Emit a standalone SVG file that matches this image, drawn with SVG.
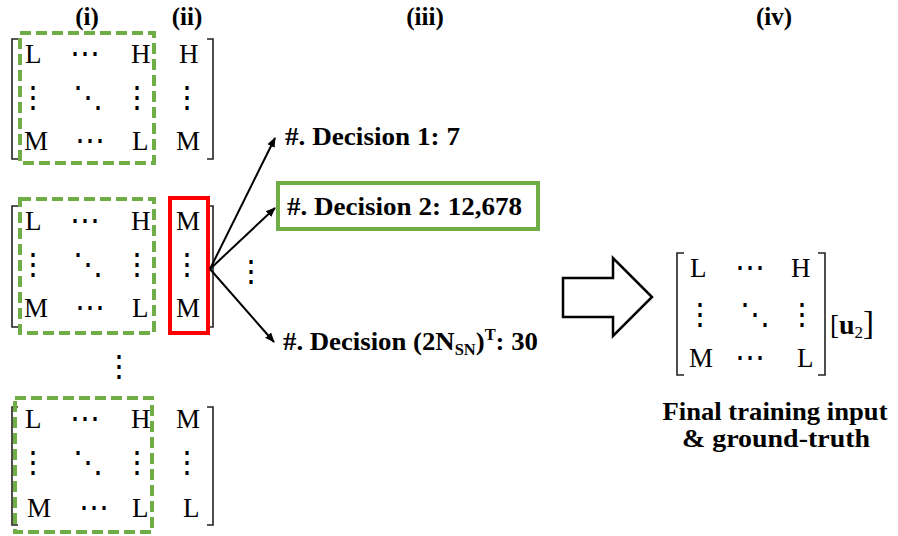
<svg xmlns="http://www.w3.org/2000/svg" width="898" height="536" viewBox="0 0 898 536">
<style>
.m{font-family:"Liberation Serif","Times New Roman",serif;font-size:27px;fill:#000}
.d{font-family:"DejaVu Serif",serif;font-size:30px;fill:#000;text-anchor:middle}
.b{font-family:"Liberation Serif","Times New Roman",serif;font-weight:bold;font-size:26px;fill:#000}
.h{font-family:"Liberation Serif","Times New Roman",serif;font-weight:bold;font-size:25px;fill:#000;text-anchor:middle}
.br{fill:none;stroke:#222;stroke-width:1.6}
.gd{fill:none;stroke:#70AD47;stroke-width:4;stroke-dasharray:11 5}
.con{stroke:#000;stroke-width:2;fill:none;marker-end:url(#ah)}
</style>
<defs>
<marker id="ah" viewBox="0 0 10 10" refX="9" refY="5" markerWidth="10" markerHeight="10" markerUnits="userSpaceOnUse" orient="auto">
<path d="M0,1 L10,5 L0,9 Z" fill="#000"/>
</marker>
</defs>
<rect width="898" height="536" fill="#fff"/>
<g id="headers">
<text class="h" x="87" y="25">(i)</text>
<text class="h" x="187" y="25">(ii)</text>
<text class="h" x="425" y="25">(iii)</text>
<text class="h" x="774" y="25">(iv)</text>
</g>
<g id="matrix1">
<path class="br" d="M18,39 H12 V159 H18 M207,39 H213 V159 H207"/>
<text class="m" x="25" y="63">L</text>
<text class="d" x="85" y="63">⋯</text>
<text class="m" x="131" y="63">H</text>
<text class="m" x="179" y="63">H</text>
<text class="d" x="33" y="107">⋮</text>
<text class="d" x="88" y="107">⋱</text>
<text class="d" x="137" y="107">⋮</text>
<text class="d" x="187" y="107">⋮</text>
<text class="m" x="24" y="150">M</text>
<text class="d" x="90" y="150">⋯</text>
<text class="m" x="132" y="150">L</text>
<text class="m" x="176" y="150">M</text>
<rect class="gd" x="20" y="33" width="134" height="130"/>
</g>
<g id="matrix2">
<path class="br" d="M18,206 H12 V327 H18 M207,206 H213 V327 H207"/>
<text class="m" x="25" y="230">L</text>
<text class="d" x="85" y="230">⋯</text>
<text class="m" x="131" y="230">H</text>
<text class="m" x="176" y="230">M</text>
<text class="d" x="33" y="274">⋮</text>
<text class="d" x="88" y="274">⋱</text>
<text class="d" x="137" y="274">⋮</text>
<text class="d" x="187" y="274">⋮</text>
<text class="m" x="24" y="317">M</text>
<text class="d" x="90" y="317">⋯</text>
<text class="m" x="132" y="317">L</text>
<text class="m" x="176" y="317">M</text>
<rect class="gd" x="20" y="199" width="134" height="134"/>
<rect x="170" y="198" width="38" height="135" fill="none" stroke="#FF0000" stroke-width="4"/>
</g>
<g id="vdots">
<text class="d" x="119" y="376">⋮</text>
<text class="d" x="251" y="281">⋮</text>
</g>
<g id="matrix3">
<path class="br" d="M18,407 H12 V525 H18 M207,407 H213 V525 H207"/>
<text class="m" x="25" y="428">L</text>
<text class="d" x="85" y="428">⋯</text>
<text class="m" x="131" y="428">H</text>
<text class="m" x="176" y="428">M</text>
<text class="d" x="33" y="472">⋮</text>
<text class="d" x="88" y="472">⋱</text>
<text class="d" x="137" y="472">⋮</text>
<text class="d" x="187" y="472">⋮</text>
<text class="m" x="27" y="517">M</text>
<text class="d" x="94" y="517">⋯</text>
<text class="m" x="132" y="517">L</text>
<text class="m" x="183" y="517">L</text>
<rect class="gd" x="15" y="398" width="137" height="134"/>
</g>
<g id="connectors">
<path class="con" d="M210,269 L275,138"/>
<path class="con" d="M210,269 L275,208"/>
<path class="con" d="M210,269 L274,342"/>
</g>
<g id="decision1">
<text class="b" x="285" y="145" textLength="175" lengthAdjust="spacingAndGlyphs">#. Decision 1: 7</text>
</g>
<g id="decision2">
<rect x="278" y="183" width="260" height="46" fill="none" stroke="#70AD47" stroke-width="4"/>
<text class="b" x="287" y="215" textLength="235" lengthAdjust="spacingAndGlyphs">#. Decision 2: 12,678</text>
</g>
<g id="decision3">
<text class="b" x="283" y="350" textLength="255" lengthAdjust="spacingAndGlyphs">#. Decision (2N<tspan font-size="16" dy="5">SN</tspan><tspan dy="-5">)</tspan><tspan font-size="16" dy="-10">T</tspan><tspan dy="10">: 30</tspan></text>
</g>
<g id="bigarrow">
<path d="M563,278 H613 V258 L652,297 L613,336 V317 H563 Z" fill="#fff" stroke="#000" stroke-width="2.5"/>
</g>
<g id="matrix4">
<path class="br" d="M684,253 H677 V375 H684 M818,253 H825 V375 H818"/>
<text class="m" x="690" y="277">L</text>
<text class="d" x="750" y="277">⋯</text>
<text class="m" x="791" y="277">H</text>
<text class="d" x="700" y="324">⋮</text>
<text class="d" x="755" y="324">⋱</text>
<text class="d" x="802" y="324">⋮</text>
<text class="m" x="689" y="367">M</text>
<text class="d" x="750" y="367">⋯</text>
<text class="m" x="797" y="367">L</text>
<text class="m" x="830" y="334" font-size="33">[<tspan font-weight="bold" font-size="28">u</tspan><tspan font-size="17" dy="4">2</tspan><tspan dy="-4" font-size="33">]</tspan></text>
</g>
<g id="caption">
<text class="h" x="775" y="420" textLength="225" lengthAdjust="spacingAndGlyphs">Final training input</text>
<text class="h" x="776" y="447" textLength="188" lengthAdjust="spacingAndGlyphs">&amp; ground-truth</text>
</g>
</svg>
